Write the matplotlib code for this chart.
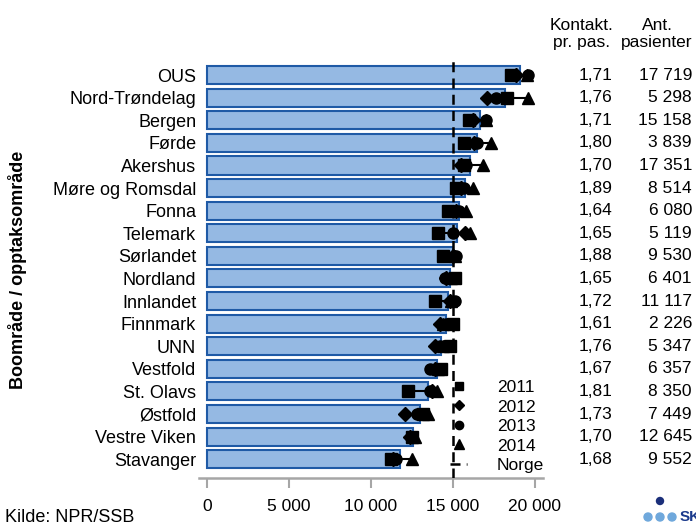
import matplotlib
matplotlib.use("Agg")
import matplotlib.pyplot as plt
from matplotlib.lines import Line2D
from matplotlib.patches import Circle
from matplotlib.transforms import blended_transform_factory
import numpy as np

plt.rcParams['font.family'] = ['Liberation Sans', 'DejaVu Sans']

categories = ["OUS", "Nord-Trøndelag", "Bergen", "Førde", "Akershus", "Møre og Romsdal",
              "Fonna", "Telemark", "Sørlandet", "Nordland", "Innlandet", "Finnmark",
              "UNN", "Vestfold", "St. Olavs", "Østfold", "Vestre Viken", "Stavanger"]
rate_avg = [19100, 18200, 16630, 16490, 16060, 15760, 15350, 15270, 15000, 14840,
            14700, 14550, 14270, 14030, 13480, 12970, 12570, 11750]
rate_2011 = [18550, 18290, 16000, 15650, 15700, 15200, 14700, 14090, 14390, 15100,
             13880, 15000, 14800, 14300, 12260, 13200, 12500, 11200]
rate_2012 = [18830, 17070, 16250, 16300, 15510, 15500, 15200, 15710, 15000, 14600,
             14800, 14190, 13900, 13900, 13750, 12100, 12360, 11350]
rate_2013 = [19570, 17650, 17050, 16460, 15820, 15700, 15400, 15000, 15200, 14490,
             15100, 14600, 14200, 13600, 13600, 12800, 12460, 11500]
rate_2014 = [19500, 19570, 17000, 17340, 16830, 16200, 15800, 16020, 15150, 14900,
             14900, 14400, 14400, 14100, 14000, 13500, 12700, 12500]
norge = 15000
kontakt = [1.71, 1.76, 1.71, 1.80, 1.70, 1.89, 1.64, 1.65, 1.88, 1.65, 1.72, 1.61,
           1.76, 1.67, 1.81, 1.73, 1.70, 1.68]
pasienter = [17719, 5298, 15158, 3839, 17351, 8514, 6080, 5119, 9530, 6401, 11117,
             2226, 5347, 6357, 8350, 7449, 12645, 9552]
xticks = [0, 5000, 10000, 15000, 20000]
xticklabels = ["0", "5 000", "10 000", "15 000", "20 000"]
years = ["2011", "2012", "2013", "2014"]

W, H = 696, 526
fig = plt.figure(figsize=(W / 100, H / 100), dpi=100)
ax = fig.add_axes([199 / W, 1 - 478 / H, (543 - 199) / W, (478 - 57) / H])

y = np.arange(len(categories))
ax.barh(y, rate_avg, height=0.8, color='#95B9E3', edgecolor='#1F5AA6', linewidth=1.5, zorder=2)

ax.axvline(norge, color='black', linestyle=(0, (4, 2.5)), linewidth=1.8, zorder=3)

allyears = np.array([rate_2011, rate_2012, rate_2013, rate_2014])
ax.hlines(y, allyears.min(axis=0), allyears.max(axis=0), color='black', linewidth=1.5, zorder=4)
markers = ['s', 'D', 'o', '^']
msizes = [8, 7, 8, 9]
for vals, m, ms in zip(allyears, markers, msizes):
    ax.plot(vals, y, linestyle='none', marker=m, markersize=ms, color='black', zorder=5)

ax.set_xlim(-500, 20500)
ax.set_ylim(17.83, -0.8)
ax.set_xticks(xticks)
ax.set_xticklabels(xticklabels, fontsize=12.5)
ax.set_yticks(y)
ax.set_yticklabels(categories, fontsize=13)
ax.tick_params(axis='y', length=0, pad=2)
ax.tick_params(axis='x', length=7, width=1.5, color='#A6A6A6', pad=8)
for s in ['left', 'right', 'top']:
    ax.spines[s].set_visible(False)
ax.spines['bottom'].set_color('#A6A6A6')
ax.spines['bottom'].set_linewidth(1.8)

fig.text(18 / W, 1 - 270 / H, "Boområde / opptaksområde", rotation=90, fontsize=13,
         fontweight='bold', ha='center', va='center')

# right-hand columns
tr = blended_transform_factory(fig.transFigure, ax.transData)
for yi, k, p in zip(y, kontakt, pasienter):
    ax.text(612 / W, yi, f"{k:.2f}".replace('.', ','), transform=tr, ha='right', va='center',
            fontsize=12.5, clip_on=False)
    ax.text(692 / W, yi, f"{p:,}".replace(',', ' '), transform=tr, ha='right', va='center',
            fontsize=12.5, clip_on=False)
fig.text(582 / W, 1 - 34 / H, "Kontakt.\npr. pas.", ha='center', va='center', fontsize=12.5,
         multialignment='center', linespacing=1.2)
fig.text(657 / W, 1 - 34 / H, "Ant.\npasienter", ha='center', va='center', fontsize=12.5,
         multialignment='center', linespacing=1.2)

# legend
handles = [Line2D([], [], linestyle='none', marker=m, markersize=ms * 0.75, color='black')
           for m, ms in zip(markers, msizes)]
handles.append(Line2D([], [], color='black', linestyle=(0, (4, 2.5)), linewidth=1.8))
leg = ax.legend(handles, years + ["Norge"], loc='lower left',
                bbox_to_anchor=((450 - 199) / (543 - 199), (478 - 473) / (478 - 57)),
                frameon=False, fontsize=12.5, handlelength=1.0, handletextpad=1.7,
                labelspacing=0.25, borderpad=0, borderaxespad=0)

fig.text(5 / W, 1 - 517 / H, "Kilde: NPR/SSB", fontsize=13, ha='left', va='center')

# SKDE logo (cut off at the right edge as in the original)
def dot(px, py, r, c):
    fig.patches.append(Circle((px / 100, (H - py) / 100), r / 100, color=c,
                              transform=fig.dpi_scale_trans, figure=fig))
dot(660, 501, 3.5, '#1B2F7A')
for px in (648, 660, 672):
    dot(px, 517, 4, '#6FA8DC')
dot(660, 532, 4, '#6FA8DC')
fig.text(680 / W, 1 - 517 / H, "SKDE", fontsize=11, fontweight='bold', color='#1B3A8C',
         ha='left', va='center')

fig.savefig("out.png", dpi=100)
